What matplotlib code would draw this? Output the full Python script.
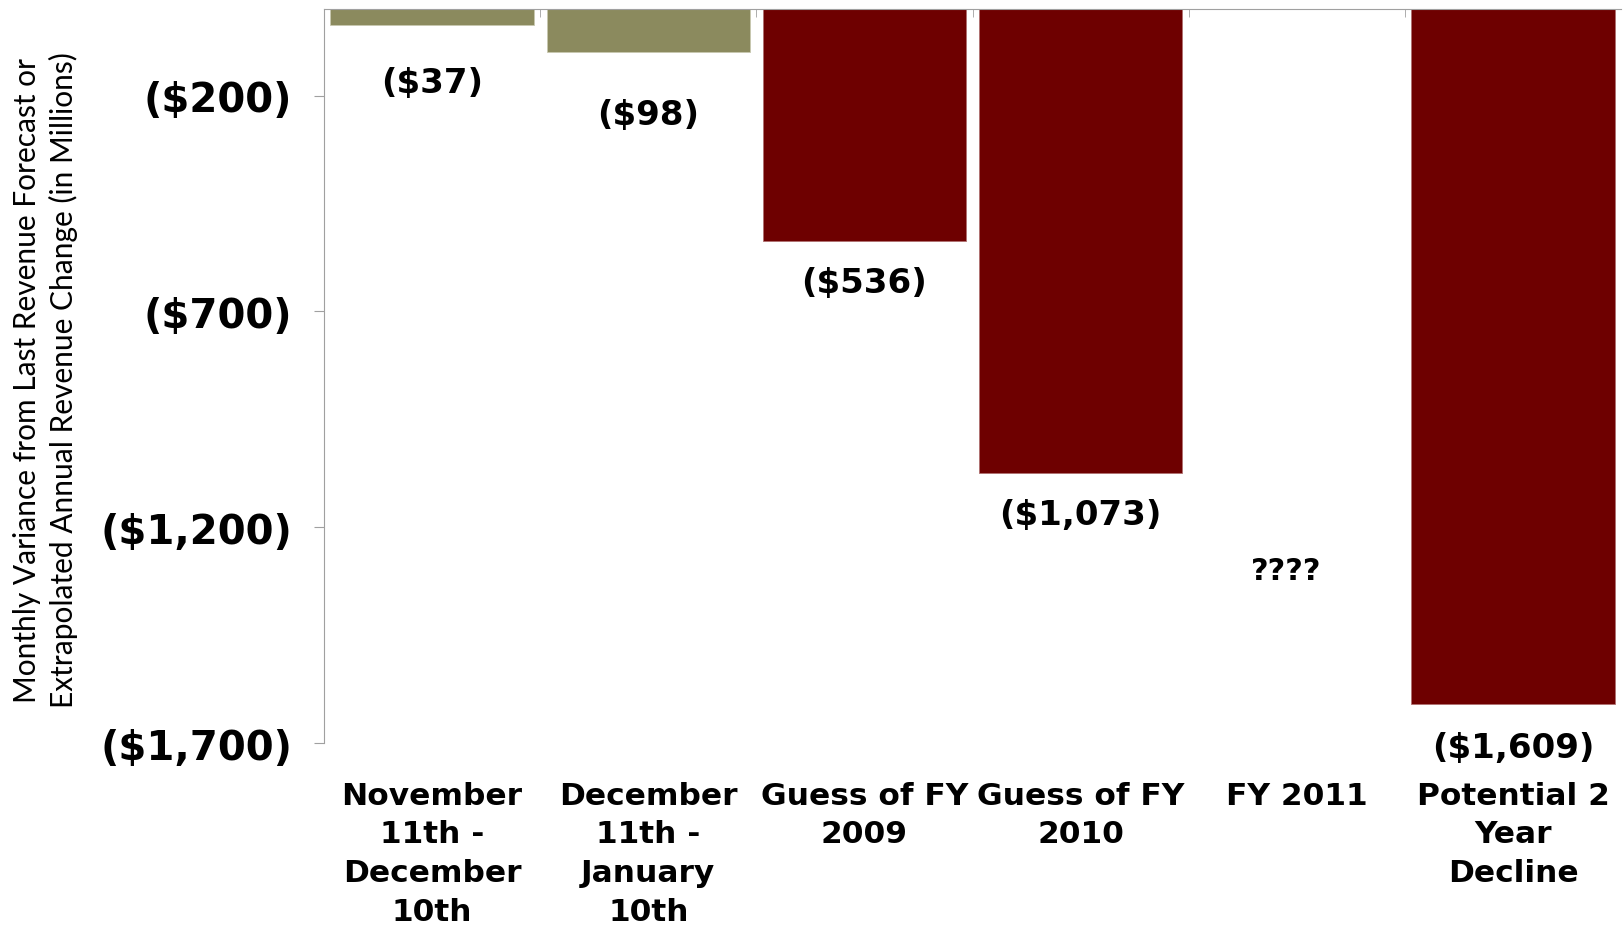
import matplotlib.pyplot as plt
import numpy as np

# dados do grafico
categorias = ["November\n11th -\nDecember\n10th", "December\n11th -\nJanuary\n10th",
              "Guess of FY\n2009", "Guess of FY\n2010", "FY 2011", "Potential 2\nYear\nDecline"]
valores = [-37, -98, -536, -1073, 0, -1609]
rotulos = ["($37)", "($98)", "($536)", "($1,073)", "????", "($1,609)"]
cores = ["#8B8A5E", "#8B8A5E", "#6E0000", "#6E0000", "#6E0000", "#6E0000"]
bordas = ["#C8C8B0", "#C8C8B0", "#B07070", "#B07070", "#B07070", "#B07070"]
ticks_y = [-200, -700, -1200, -1700]
ticks_y_txt = ["($200)", "($700)", "($1,200)", "($1,700)"]
# deslocamento dos rotulos (pontos abaixo da barra)
desloc = [-41, -45, -30, -30, -1300, -31]

fig = plt.figure(figsize=(16.24, 9.28), dpi=100)
ax = fig.add_axes([0.1995, 0.198, 0.7987, 0.791])

x = np.arange(len(categorias))
ax.bar(x, valores, width=0.94, color=cores, edgecolor=bordas, linewidth=0.6)

for i, (v, r) in enumerate(zip(valores, rotulos)):
    if r == "????":
        ax.text(i - 0.05, desloc[i], r, ha="center", va="center",
                fontsize=22, fontweight="bold")
    else:
        ax.annotate(r, (i, v), xytext=(0, desloc[i]), textcoords="offset points",
                    ha="center", va="center", fontsize=24.5, fontweight="bold")

ax.set_xlim(-0.5, 5.5)
ax.set_ylim(-1700, 0)

ax.set_yticks(ticks_y)
ax.set_yticklabels(ticks_y_txt, fontsize=29, fontweight="bold")
ax.tick_params(axis="y", length=7, color="#A0A0A0", pad=16)

ax.set_xticks(x)
ax.set_xticklabels(categorias, fontsize=22.5, fontweight="bold", linespacing=1.42)
ax.tick_params(axis="x", which="major", length=0, pad=27)
ax.set_xticks(np.arange(0.5, 5.5, 1), minor=True)
ax.tick_params(axis="x", which="minor", bottom=False, top=True, direction="in",
               length=6, color="#A0A0A0")

for s in ["right", "bottom"]:
    ax.spines[s].set_visible(False)
ax.spines["left"].set_color("#A0A0A0")
ax.spines["top"].set_color("#A0A0A0")

fig.text(0.028, 0.59, "Monthly Variance from Last Revenue Forecast or\nExtrapolated Annual Revenue Change (in Millions)",
         rotation=90, ha="center", va="center", fontsize=21.5, family="Lato", linespacing=1.3)

plt.savefig("out.png", dpi=100)
